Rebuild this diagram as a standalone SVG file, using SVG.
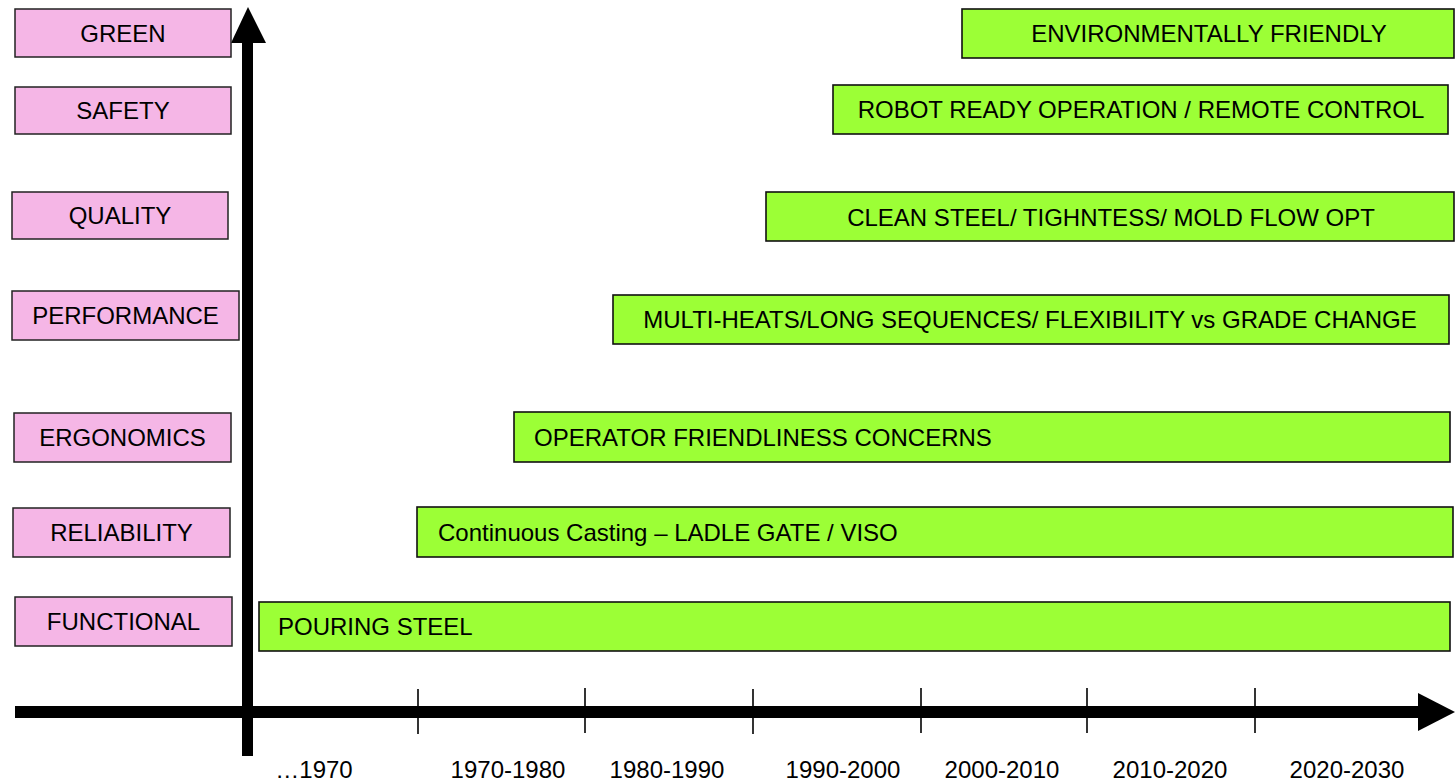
<svg xmlns="http://www.w3.org/2000/svg" width="1455" height="783" viewBox="0 0 1455 783">
<style>
.cat{fill:#F5B6E6;stroke:#222;stroke-width:1.5}
.bar{fill:#9CFF36;stroke:#111;stroke-width:1.6}
text{font-family:"Liberation Sans",Arial,sans-serif;font-size:24px;fill:#000}
.c{text-anchor:middle}
.tick{stroke:#000;stroke-width:1.6}
</style>
<rect width="1455" height="783" fill="#fff"/>
<g id="connectors">
<rect x="15" y="706" width="1405" height="12" fill="#000"/>
<polygon points="1418,693 1455,712 1418,731" fill="#000"/>
<rect x="242" y="41" width="11" height="715" fill="#000"/>
<polygon points="231,43 248,7 266,43" fill="#000"/>
<line class="tick" x1="418" y1="689" x2="418" y2="734"/>
<line class="tick" x1="585" y1="688" x2="585" y2="733"/>
<line class="tick" x1="753" y1="689" x2="753" y2="734"/>
<line class="tick" x1="921" y1="688" x2="921" y2="733"/>
<line class="tick" x1="1087" y1="688" x2="1087" y2="733"/>
<line class="tick" x1="1255" y1="688" x2="1255" y2="733"/>
</g>
<g id="axis-labels">
<text class="c" x="314" y="778">…1970</text>
<text class="c" x="508" y="778">1970-1980</text>
<text class="c" x="667" y="778">1980-1990</text>
<text class="c" x="843" y="778">1990-2000</text>
<text class="c" x="1002" y="778">2000-2010</text>
<text class="c" x="1170" y="778">2010-2020</text>
<text class="c" x="1347" y="778">2020-2030</text>
</g>
<g id="cat-green"><rect class="cat" x="15" y="9" width="216" height="48"/><text class="c" x="123" y="42">GREEN</text></g>
<g id="cat-safety"><rect class="cat" x="15" y="87" width="216" height="47"/><text class="c" x="123" y="119">SAFETY</text></g>
<g id="cat-quality"><rect class="cat" x="12" y="192" width="216" height="47"/><text class="c" x="120" y="224">QUALITY</text></g>
<g id="cat-performance"><rect class="cat" x="12" y="291" width="227" height="49"/><text class="c" x="125.5" y="324">PERFORMANCE</text></g>
<g id="cat-ergonomics"><rect class="cat" x="14" y="413" width="217" height="49"/><text class="c" x="122.5" y="446">ERGONOMICS</text></g>
<g id="cat-reliability"><rect class="cat" x="13" y="508" width="217" height="49"/><text class="c" x="121.5" y="541">RELIABILITY</text></g>
<g id="cat-functional"><rect class="cat" x="15" y="597" width="217" height="49"/><text class="c" x="123.5" y="630">FUNCTIONAL</text></g>
<g id="bar-environment"><rect class="bar" x="962" y="9" width="492" height="49"/><text class="c" x="1209" y="42">ENVIRONMENTALLY FRIENDLY</text></g>
<g id="bar-robot"><rect class="bar" x="833" y="85" width="615" height="49"/><text class="c" x="1141" y="118">ROBOT READY OPERATION / REMOTE CONTROL</text></g>
<g id="bar-clean"><rect class="bar" x="766" y="192" width="688" height="49"/><text class="c" x="1111" y="226">CLEAN STEEL/ TIGHNTESS/ MOLD FLOW OPT</text></g>
<g id="bar-multi"><rect class="bar" x="613" y="295" width="836" height="49"/><text class="c" x="1030" y="328">MULTI-HEATS/LONG SEQUENCES/ FLEXIBILITY vs GRADE CHANGE</text></g>
<g id="bar-operator"><rect class="bar" x="514" y="412" width="936" height="50"/><text x="534" y="446">OPERATOR FRIENDLINESS CONCERNS</text></g>
<g id="bar-continuous"><rect class="bar" x="417" y="507" width="1036" height="50"/><text x="438" y="541">Continuous Casting – LADLE GATE / VISO</text></g>
<g id="bar-pouring"><rect class="bar" x="259" y="602" width="1191" height="49"/><text x="278" y="635">POURING STEEL</text></g>
</svg>
